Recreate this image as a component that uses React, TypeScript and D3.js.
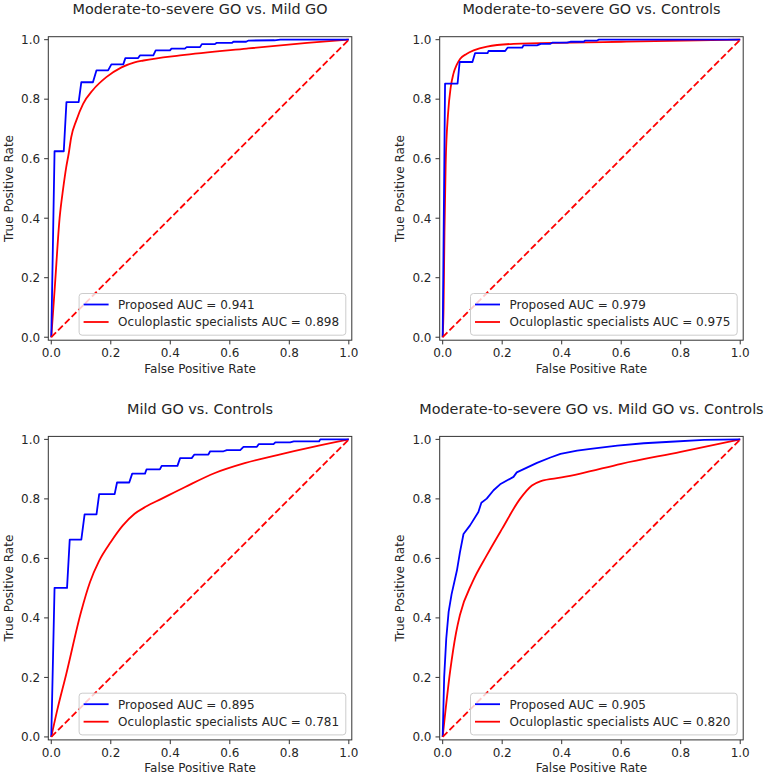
import React from "react";
import * as d3 from "d3";

const TITLES = [
  "Moderate-to-severe GO vs. Mild GO",
  "Moderate-to-severe GO vs. Controls",
  "Mild GO vs. Controls",
  "Moderate-to-severe GO vs. Mild GO vs. Controls",
];
const PROPOSED_AUC = ["0.941", "0.979", "0.895", "0.905"];
const SPECIALIST_AUC = ["0.898", "0.975", "0.781", "0.820"];
const TICKS = [0, 0.2, 0.4, 0.6, 0.8, 1.0];
const TICK_LABELS = ["0.0", "0.2", "0.4", "0.6", "0.8", "1.0"];
const DIAGONAL: [number, number][] = [[0, 0], [1, 1]];

// Panel 1: Moderate-to-severe GO vs. Mild GO
const p1Proposed: [number, number][] = [
  [0, 0], [0.011, 0.625], [0.042, 0.625], [0.051, 0.79], [0.092, 0.79], [0.101, 0.857],
  [0.14, 0.857], [0.152, 0.897], [0.191, 0.897], [0.202, 0.917], [0.242, 0.917], [0.249, 0.938],
  [0.292, 0.938], [0.298, 0.947], [0.343, 0.947], [0.351, 0.964], [0.399, 0.964], [0.404, 0.97],
  [0.449, 0.97], [0.455, 0.975], [0.5, 0.975], [0.506, 0.985], [0.55, 0.985], [0.555, 0.989],
  [0.607, 0.989], [0.612, 0.993], [0.655, 0.993], [0.663, 0.997], [0.75, 0.998], [0.77, 1.0], [1, 1],
];
const p1Specialists: [number, number][] = [
  [0, 0], [0.012, 0.17], [0.028, 0.4], [0.04, 0.5], [0.05, 0.57], [0.059, 0.62], [0.067, 0.672],
  [0.084, 0.728], [0.107, 0.784], [0.14, 0.831], [0.185, 0.874], [0.236, 0.907], [0.28, 0.924],
  [0.31, 0.93], [0.433, 0.947], [0.657, 0.97], [0.86, 0.989], [1, 1],
];

// Panel 2: Moderate-to-severe GO vs. Controls
const p2Proposed: [number, number][] = [
  [0, 0], [0.008, 0.852], [0.05, 0.852], [0.057, 0.925], [0.1, 0.925], [0.109, 0.955],
  [0.151, 0.955], [0.154, 0.962], [0.21, 0.962], [0.218, 0.973], [0.267, 0.973], [0.272, 0.981],
  [0.317, 0.981], [0.33, 0.986], [0.362, 0.986], [0.368, 0.99], [0.418, 0.99], [0.429, 0.993],
  [0.474, 0.993], [0.479, 0.997], [0.519, 0.997], [0.525, 1.0], [1, 1],
];
const p2Specialists: [number, number][] = [
  [0, 0], [0.003, 0.1], [0.006, 0.35], [0.01, 0.58], [0.018, 0.75], [0.027, 0.84], [0.036, 0.885],
  [0.047, 0.915], [0.059, 0.936], [0.08, 0.952], [0.104, 0.964], [0.149, 0.977], [0.238, 0.986],
  [0.43, 0.99], [0.6, 0.993], [1, 1],
];

// Panel 3: Mild GO vs. Controls
const p3Proposed: [number, number][] = [
  [0, 0], [0.011, 0.501], [0.053, 0.501], [0.062, 0.663], [0.101, 0.663], [0.112, 0.748],
  [0.152, 0.748], [0.161, 0.816], [0.213, 0.816], [0.221, 0.855], [0.262, 0.855], [0.272, 0.885],
  [0.315, 0.885], [0.32, 0.899], [0.365, 0.899], [0.371, 0.911], [0.424, 0.911], [0.433, 0.937],
  [0.472, 0.937], [0.481, 0.949], [0.528, 0.949], [0.534, 0.96], [0.579, 0.96], [0.59, 0.964],
  [0.635, 0.964], [0.646, 0.975], [0.691, 0.975], [0.697, 0.984], [0.747, 0.984], [0.753, 0.99],
  [0.803, 0.99], [0.815, 0.993], [0.9, 0.993], [0.904, 1.0], [1, 1],
];
const p3Specialists: [number, number][] = [
  [0, 0], [0.02, 0.09], [0.05, 0.21], [0.1, 0.42], [0.13, 0.52], [0.16, 0.59], [0.2, 0.655],
  [0.24, 0.71], [0.28, 0.75], [0.32, 0.775], [0.37, 0.8], [0.45, 0.84], [0.55, 0.887],
  [0.65, 0.92], [0.77, 0.95], [0.88, 0.975], [1, 1],
];

// Panel 4: Moderate-to-severe GO vs. Mild GO vs. Controls
const p4Proposed: [number, number][] = [
  [0, 0], [0.005, 0.2], [0.012, 0.33], [0.02, 0.42], [0.03, 0.48], [0.048, 0.56], [0.058, 0.62],
  [0.07, 0.682], [0.092, 0.711], [0.12, 0.756], [0.13, 0.787], [0.148, 0.801], [0.171, 0.829],
  [0.193, 0.849], [0.238, 0.874], [0.249, 0.889], [0.283, 0.905], [0.317, 0.921], [0.362, 0.939],
  [0.396, 0.951], [0.452, 0.962], [0.497, 0.968], [0.587, 0.979], [0.676, 0.987], [0.766, 0.992],
  [0.879, 0.998], [1, 1],
];
const p4Specialists: [number, number][] = [
  [0, 0], [0.025, 0.22], [0.045, 0.35], [0.058, 0.41], [0.1, 0.52], [0.148, 0.61], [0.2, 0.7],
  [0.26, 0.8], [0.3, 0.845], [0.33, 0.86], [0.4, 0.872], [0.463, 0.885], [0.6, 0.918],
  [0.8, 0.958], [1, 1],
];

const PROPOSED = [p1Proposed, p2Proposed, p3Proposed, p4Proposed];
const SPECIALISTS = [p1Specialists, p2Specialists, p3Specialists, p4Specialists];

const FONT = "'DejaVu Sans', sans-serif";
const TEXT = "#262626";
const SIZE = 303.5;
const LEFTS = [48.3, 439.7, 48.3, 439.7];
const TOPS = [36.7, 36.7, 436.4, 436.4];

function Panel({ i }: { i: number }) {
  const left = LEFTS[i];
  const top = TOPS[i];
  const x = d3.scaleLinear().domain([-0.01, 1.01]).range([left, left + SIZE]);
  const y = d3.scaleLinear().domain([-0.01, 1.01]).range([top + SIZE, top]);
  const line = d3
    .line<[number, number]>()
    .x((d) => x(d[0]))
    .y((d) => y(d[1]));
  const smooth = d3
    .line<[number, number]>()
    .x((d) => x(d[0]))
    .y((d) => y(d[1]))
    .curve(d3.curveMonotoneX);
  const bottom = top + SIZE;
  const right = left + SIZE;
  const cx = left + SIZE / 2;
  const cy = top + SIZE / 2;

  const legW = 266.7;
  const legH = 41.7;
  const legX = right - 6 - legW;
  const legY = bottom - 5 - legH;
  const row1 = legY + 11;
  const row2 = legY + 28.5;

  return (
    <g>
      <path d={smooth(SPECIALISTS[i]) || ""} fill="none" stroke="#ff0000" strokeWidth={1.8} strokeLinejoin="round" />
      <path d={line(PROPOSED[i]) || ""} fill="none" stroke="#0000ff" strokeWidth={1.8} strokeLinejoin="round" />
      <path d={line(DIAGONAL) || ""} fill="none" stroke="#ff0000" strokeWidth={1.8} strokeDasharray="6.7,2.9" />
      <rect x={left} y={top} width={SIZE} height={SIZE} fill="none" stroke="#333" strokeWidth={1} />
      {TICKS.map((t, k) => (
        <g key={"x" + k}>
          <line x1={x(t)} x2={x(t)} y1={bottom} y2={bottom + 4.2} stroke="#333" strokeWidth={1} />
          <text x={x(t)} y={bottom + 17.2} textAnchor="middle" fontFamily={FONT} fontSize={12} fill={TEXT}>
            {TICK_LABELS[k]}
          </text>
        </g>
      ))}
      {TICKS.map((t, k) => (
        <g key={"y" + k}>
          <line x1={left - 4.2} x2={left} y1={y(t)} y2={y(t)} stroke="#333" strokeWidth={1} />
          <text x={left - 8.2} y={y(t) + 4.3} textAnchor="end" fontFamily={FONT} fontSize={12} fill={TEXT}>
            {TICK_LABELS[k]}
          </text>
        </g>
      ))}
      <text x={cx} y={bottom + 32.5} textAnchor="middle" fontFamily={FONT} fontSize={12} fill={TEXT}>
        False Positive Rate
      </text>
      <text
        transform={`translate(${left - 35.5},${cy}) rotate(-90)`}
        textAnchor="middle"
        fontFamily={FONT}
        fontSize={12}
        fill={TEXT}
      >
        True Positive Rate
      </text>
      <text x={cx} y={top - 22.8} textAnchor="middle" fontFamily={FONT} fontSize={14.4} fill={TEXT}>
        {TITLES[i]}
      </text>
      <rect x={legX} y={legY} width={legW} height={legH} rx={3} fill="#ffffff" fillOpacity={0.8} stroke="#cccccc" strokeWidth={1} />
      <line x1={legX + 4.5} x2={legX + 29.5} y1={row1} y2={row1} stroke="#0000ff" strokeWidth={1.8} />
      <line x1={legX + 4.5} x2={legX + 29.5} y1={row2} y2={row2} stroke="#ff0000" strokeWidth={1.8} />
      <text x={legX + 39} y={row1 + 4.4} fontFamily={FONT} fontSize={12} fill={TEXT}>
        {`Proposed AUC = ${PROPOSED_AUC[i]}`}
      </text>
      <text x={legX + 39} y={row2 + 4.4} fontFamily={FONT} fontSize={12} fill={TEXT}>
        {`Oculoplastic specialists AUC = ${SPECIALIST_AUC[i]}`}
      </text>
    </g>
  );
}

export default function App() {
  return (
    <svg
      width={767}
      height={775}
      viewBox="0 0 767 775"
      style={{ position: "absolute", left: 0, top: 0, background: "#ffffff" }}
    >
      <rect x={0} y={0} width={767} height={775} fill="#ffffff" />
      {[0, 1, 2, 3].map((i) => (
        <Panel key={i} i={i} />
      ))}
    </svg>
  );
}
